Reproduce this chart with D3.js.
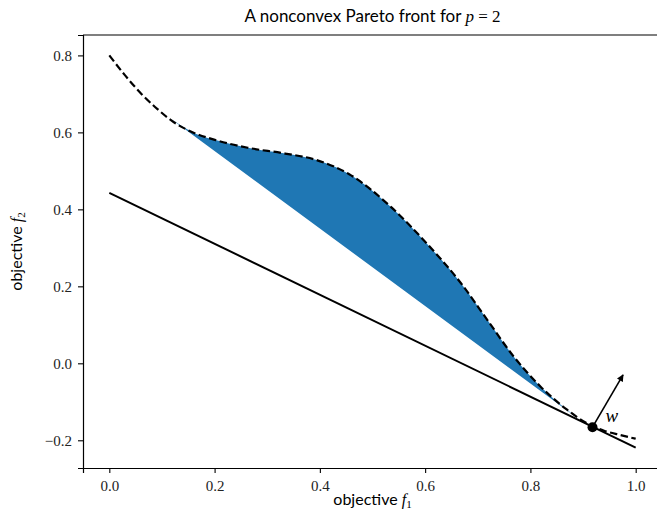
<!DOCTYPE html>
<html>
<head>
<meta charset="utf-8">
<script src="https://cdn.jsdelivr.net/npm/d3@7"></script>
<style>
  body { margin: 0; background: #fff; }
  .sans { font-family: "Lato", "Liberation Sans", sans-serif; }
  .math { font-family: "Liberation Serif", "DejaVu Serif", serif; font-style: italic; }
</style>
</head>
<body>
<svg id="chart" width="657" height="512"></svg>
<script>
// front (dashed)
const frontX = [0.000, 0.030, 0.061, 0.091, 0.122, 0.162, 0.202, 0.263, 0.334, 0.394, 0.455, 0.536, 0.606, 0.667, 0.718, 0.768, 0.819, 0.869, 0.909, 0.940, 0.970, 1.000];
const frontY = [0.800, 0.748, 0.700, 0.661, 0.627, 0.598, 0.580, 0.560, 0.545, 0.528, 0.492, 0.405, 0.307, 0.210, 0.113, 0.018, -0.060, -0.120, -0.157, -0.175, -0.186, -0.196];

// gap between the front and its convex hull (filled)
const gapX = [0.116, 0.162, 0.202, 0.263, 0.334, 0.394, 0.455, 0.536, 0.606, 0.667, 0.718, 0.768, 0.819, 0.869, 0.893];
const gapY = [0.636, 0.598, 0.580, 0.560, 0.545, 0.528, 0.492, 0.405, 0.307, 0.210, 0.113, 0.018, -0.060, -0.120, -0.146];

// supporting line and weight vector
const lineX = [0, 1];
const lineY = [0.443, -0.219];
const pointW = [0.918, -0.166];
const arrowTip = [0.976, -0.030];

const xTicks = [0.0, 0.2, 0.4, 0.6, 0.8, 1.0];
const yTicks = [-0.2, 0.0, 0.2, 0.4, 0.6, 0.8];

const svg = d3.select("#chart");
const mLeft = 83, mTop = 35, mRight = 662, mBottom = 468;

const x = d3.scaleLinear().domain([-0.05, 1.05]).range([mLeft, mRight]);
const y = d3.scaleLinear().domain([-0.272, 0.853]).range([mBottom, mTop]);

const fmt = d => d3.format(".1f")(d).replace("-", "\u2212");

// fill
const gapLine = d3.line().x(d => x(d[0])).y(d => y(d[1])).curve(d3.curveMonotoneX);
svg.append("path")
    .attr("d", gapLine(d3.zip(gapX, gapY)) + "Z")
    .attr("fill", "#1f77b4");

// supporting line
svg.append("path")
    .attr("d", d3.line().x(d => x(d[0])).y(d => y(d[1]))(d3.zip(lineX, lineY)))
    .attr("stroke", "black").attr("stroke-width", 2).attr("fill", "none");

// front
svg.append("path")
    .attr("d", gapLine(d3.zip(frontX, frontY)))
    .attr("stroke", "black").attr("stroke-width", 2.2).attr("fill", "none")
    .attr("stroke-dasharray", "7.5,3.5");

// arrow
svg.append("defs").append("marker")
    .attr("id", "head").attr("viewBox", "0 0 10 10")
    .attr("refX", 9).attr("refY", 5)
    .attr("markerWidth", 8).attr("markerHeight", 7)
    .attr("markerUnits", "userSpaceOnUse")
    .attr("orient", "auto")
    .append("path").attr("d", "M0,0L10,5L0,10Z").attr("fill", "black");

svg.append("line")
    .attr("x1", x(pointW[0])).attr("y1", y(pointW[1]))
    .attr("x2", x(arrowTip[0])).attr("y2", y(arrowTip[1]))
    .attr("stroke", "black").attr("stroke-width", 1.6)
    .attr("marker-end", "url(#head)");

svg.append("circle")
    .attr("cx", x(pointW[0])).attr("cy", y(pointW[1])).attr("r", 5)
    .attr("fill", "black");

svg.append("text").attr("class", "math")
    .attr("x", x(pointW[0]) + 13).attr("y", y(pointW[1]) - 5)
    .attr("font-size", 19)
    .text("w");

// axes
const xAxis = svg.append("g").attr("transform", `translate(0,${mBottom})`)
    .call(d3.axisBottom(x).tickValues(xTicks).tickFormat(fmt).tickSizeOuter(0).tickSize(5).tickPadding(7));
const yAxis = svg.append("g").attr("transform", `translate(${mLeft},0)`)
    .call(d3.axisLeft(y).tickValues(yTicks).tickFormat(fmt).tickSizeOuter(0).tickSize(5).tickPadding(6));
svg.selectAll(".tick text")
    .attr("font-family", "Liberation Serif, DejaVu Serif, serif")
    .attr("font-size", 15)
    .attr("fill", "#222");
svg.selectAll(".domain").attr("stroke-width", 1.2);
svg.selectAll(".tick line").attr("stroke-width", 1.1);

svg.append("line").attr("x1", mLeft).attr("x2", mRight).attr("y1", mTop).attr("y2", mTop)
    .attr("stroke", "black").attr("stroke-width", 1.2);
svg.append("line").attr("x1", mRight).attr("x2", mRight).attr("y1", mTop).attr("y2", mBottom)
    .attr("stroke", "black").attr("stroke-width", 1.2);

// title
const title = svg.append("text").attr("class", "sans")
    .attr("x", (mLeft + mRight) / 2).attr("y", 22)
    .attr("text-anchor", "middle").attr("font-size", 17);
title.append("tspan").text("A nonconvex Pareto front for ");
title.append("tspan").attr("class", "math").text("p");
title.append("tspan").attr("font-family", "Liberation Serif, serif").text(" = 2");

// axis labels
const xl = svg.append("text").attr("class", "sans")
    .attr("x", (mLeft + mRight) / 2).attr("y", 505)
    .attr("text-anchor", "middle").attr("font-size", 16);
xl.append("tspan").text("objective  ");
xl.append("tspan").attr("class", "math").text("f");
xl.append("tspan").attr("font-family", "Liberation Serif, serif").attr("font-size", 11).attr("dy", 3).text("1");

const yl = svg.append("text").attr("class", "sans")
    .attr("transform", `translate(22,${(mTop + mBottom) / 2}) rotate(-90)`)
    .attr("text-anchor", "middle").attr("font-size", 16);
yl.append("tspan").text("objective  ");
yl.append("tspan").attr("class", "math").text("f");
yl.append("tspan").attr("font-family", "Liberation Serif, serif").attr("font-size", 11).attr("dy", 3).text("2");
</script>
</body>
</html>
